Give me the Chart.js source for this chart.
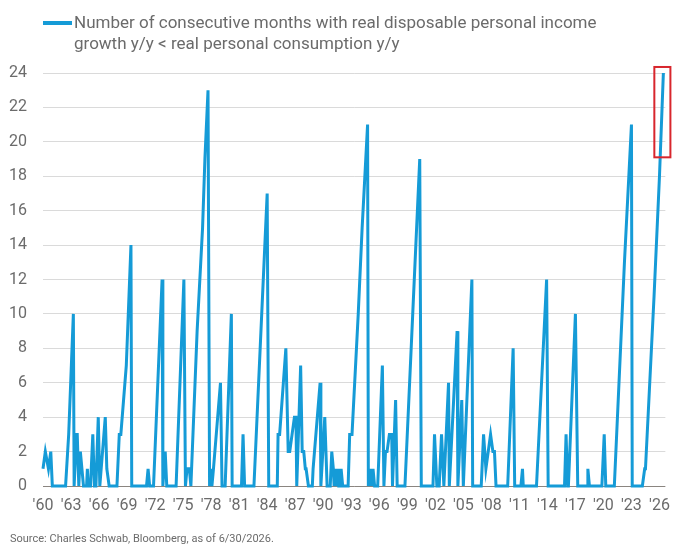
<!DOCTYPE html>
<html>
<head>
<meta charset="utf-8">
<script src="https://cdn.jsdelivr.net/npm/chart.js@4.4.1/dist/chart.umd.min.js"></script>
<style>
  body { margin: 0; background: #fff; }
  #wrap { position: relative; width: 680px; height: 556px; font-family: Roboto, "Noto Sans", sans-serif; }
  #chart { position: absolute; left: 0; top: 0; }
  #legendMark { position: absolute; left: 43px; top: 21px; width: 29px; height: 4px; background: #159bd7; }
  #legendText { position: absolute; left: 74px; top: 12px; font-size: 17px; line-height: 21px; color: #6b6b6b; }
  #source { position: absolute; left: 10px; top: 532px; font-size: 11px; line-height: 14px; color: #6b6b6b; }
</style>
</head>
<body>
<div id="wrap">
  <canvas id="chart" width="680" height="556"></canvas>
  <div id="legendMark"></div>
  <div id="legendText">Number of consecutive months with real disposable personal income<br>growth y/y &lt; real personal consumption y/y</div>
  <div id="source">Source: Charles Schwab, Bloomberg, as of 6/30/2026.</div>
</div>
<script>
// turning points of the monthly counter
const months = [
  '1960-01', '1960-04', '1960-08', '1960-11', '1961-01', '1962-06', '1962-10', '1963-04', '1963-05', '1963-08',
  '1963-09', '1963-11', '1964-01', '1964-05', '1964-09', '1964-10', '1964-11', '1965-02', '1965-05', '1965-07',
  '1965-09', '1965-12', '1966-02', '1966-09', '1966-11', '1967-02', '1967-12', '1968-03', '1968-05', '1968-12',
  '1969-06', '1969-07', '1971-02', '1971-04', '1971-06', '1971-11', '1972-10', '1972-11', '1973-02', '1973-04',
  '1974-04', '1975-02', '1975-04', '1975-06', '1975-09', '1975-11', '1976-07', '1977-02', '1977-05', '1977-09',
  '1977-11', '1978-01', '1978-02', '1978-04', '1979-01', '1979-03', '1979-07', '1980-03', '1980-04', '1981-04',
  '1981-06', '1981-08', '1982-08', '1983-04', '1984-01', '1984-03', '1985-02', '1985-03', '1985-05', '1986-01',
  '1986-04', '1986-06', '1986-12', '1987-02', '1987-03', '1987-08', '1987-10', '1987-12', '1988-02', '1988-03',
  '1988-06', '1988-11', '1988-12', '1989-09', '1989-10', '1990-03', '1990-06', '1990-10', '1990-12', '1991-02',
  '1991-03', '1991-05', '1991-06', '1991-08', '1991-09', '1991-11', '1991-12', '1992-02', '1992-09', '1992-11',
  '1993-02', '1993-10', '1994-03', '1994-10', '1994-11', '1995-02', '1995-03', '1995-05', '1995-07', '1995-11',
  '1996-05', '1996-07', '1996-09', '1996-11', '1997-02', '1997-05', '1997-06', '1997-10', '1997-12', '1998-10',
  '1999-08', '2000-05', '2000-07', '2001-10', '2001-12', '2002-03', '2002-06', '2002-09', '2002-12', '2003-06',
  '2003-07', '2004-05', '2004-06', '2004-11', '2005-01', '2005-12', '2006-01', '2006-12', '2007-03', '2007-06',
  '2007-12', '2008-03', '2008-05', '2008-07', '2009-10', '2010-05', '2010-07', '2011-03', '2011-05', '2011-06',
  '2012-11', '2013-12', '2014-02', '2015-11', '2016-01', '2016-03', '2016-04', '2017-01', '2017-04', '2018-04',
  '2018-05', '2018-07', '2019-11', '2020-02', '2020-04', '2021-03', '2022-04', '2023-01', '2023-02', '2024-03',
  '2024-06', '2024-07', '2025-06', '2026-01', '2026-06'
];
const counts = [
  1, 2, 1, 2, 0, 0, 3, 10, 0, 3,
  3, 0, 2, 0, 0, 1, 0, 0, 3, 0,
  0, 4, 0, 4, 1, 0, 0, 3, 3, 7,
  14, 0, 0, 1, 0, 0, 12, 0, 2, 0,
  0, 12, 0, 1, 1, 0, 9, 15, 19, 23,
  0, 1, 0, 1, 6, 0, 0, 10, 0, 0,
  3, 0, 0, 8, 17, 0, 0, 3, 3, 8,
  2, 2, 4, 4, 0, 7, 2, 2, 1, 1,
  0, 0, 1, 6, 0, 4, 0, 0, 2, 1,
  0, 1, 0, 1, 0, 0, 1, 0, 0, 3,
  3, 10, 15, 21, 0, 1, 0, 1, 0, 0,
  7, 0, 2, 2, 3, 3, 0, 5, 0, 0,
  10, 19, 0, 0, 3, 0, 0, 3, 0, 6,
  0, 9, 0, 5, 0, 12, 0, 0, 3, 1,
  3, 2, 2, 0, 0, 8, 0, 0, 1, 0,
  0, 12, 0, 0, 3, 0, 0, 10, 0, 0,
  1, 0, 0, 3, 0, 0, 13, 21, 0, 0,
  1, 1, 11, 18, 24
];
const tickYears = [1960, 1963, 1966, 1969, 1972, 1975, 1978, 1981, 1984, 1987, 1990, 1993,
  1996, 1999, 2002, 2005, 2008, 2011, 2014, 2017, 2020, 2023, 2026];
const yTicks = [0, 2, 4, 6, 8, 10, 12, 14, 16, 18, 20, 22, 24];
const highlight = { xMin: 2025.45, xMax: 2027.17, yMin: 19.1, yMax: 24.35 };

const lineColor = '#159bd7';

function toYear(m) {
  const [y, mo] = m.split('-').map(Number);
  return y + (mo - 1) / 12;
}

const points = months.map((m, i) => ({ x: toYear(m), y: counts[i] }));

const boxPlugin = {
  id: 'highlightBox',
  afterDatasetsDraw(chart) {
    const { ctx, scales } = chart;
    const x1 = scales.x.getPixelForValue(highlight.xMin);
    const x2 = scales.x.getPixelForValue(highlight.xMax);
    const y1 = scales.y.getPixelForValue(highlight.yMax);
    const y2 = scales.y.getPixelForValue(highlight.yMin);
    ctx.save();
    ctx.strokeStyle = '#d8262d';
    ctx.lineWidth = 2;
    ctx.strokeRect(x1, y1, x2 - x1, y2 - y1);
    ctx.restore();
  }
};

const tickFont = { family: 'Roboto', size: 16 };

new Chart(document.getElementById('chart'), {
  type: 'line',
  data: {
    datasets: [{
      label: 'Number of consecutive months with real disposable personal income growth y/y < real personal consumption y/y',
      data: points,
      borderColor: lineColor,
      borderWidth: 3,
      pointRadius: 0,
      tension: 0,
      fill: false,
      clip: false
    }]
  },
  options: {
    responsive: false,
    animation: false,
    layout: { padding: { top: 73, right: 14, bottom: 40, left: 0 } },
    plugins: { legend: { display: false }, tooltip: { enabled: false } },
    scales: {
      x: {
        type: 'linear',
        min: 1960,
        max: 2026.63,
        afterBuildTicks: axis => { axis.ticks = tickYears.map(v => ({ value: v })); },
        afterFit: axis => { axis.height = 30; },
        grid: { display: false, drawTicks: false },
        border: { display: false },
        ticks: {
          autoSkip: false,
          maxRotation: 0,
          padding: 10,
          color: '#6b6b6b',
          font: tickFont,
          callback: v => "'" + String(v).slice(2)
        }
      },
      y: {
        min: 0,
        max: 24,
        afterBuildTicks: axis => { axis.ticks = yTicks.map(v => ({ value: v })); },
        afterFit: axis => { axis.width = 43; },
        grid: {
          drawTicks: false,
          color: c => c.tick && c.tick.value === 0 ? '#8a8580' : '#dadada',
          lineWidth: 1
        },
        border: { display: false },
        ticks: { padding: 16, color: '#6b6b6b', font: tickFont }
      }
    }
  },
  plugins: [boxPlugin]
});
</script>
</body>
</html>
